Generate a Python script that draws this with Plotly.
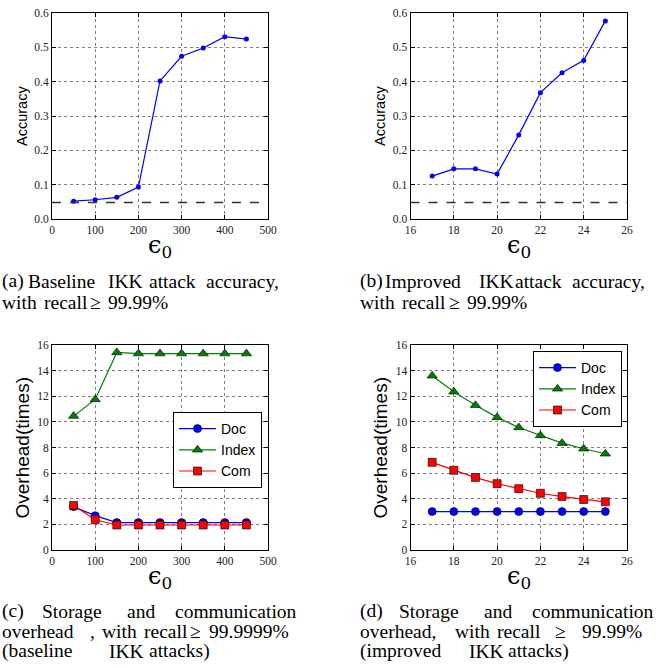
import plotly.graph_objects as go

# ---------------- data ----------------
eps_a = [50, 100, 150, 200, 250, 300, 350, 400, 450]
acc_a = [0.052, 0.056, 0.063, 0.093, 0.402, 0.474, 0.498, 0.531, 0.524]
eps_b = [17, 18, 19, 20, 21, 22, 23, 24, 25]
acc_b = [0.125, 0.146, 0.146, 0.131, 0.245, 0.368, 0.426, 0.462, 0.577]
baseline_acc = [0.048]

eps_c = [50, 100, 150, 200, 250, 300, 350, 400, 450]
doc_c = [3.38, 2.68, 2.14, 2.14, 2.14, 2.14, 2.14, 2.14, 2.14]
index_c = [10.45, 11.75, 15.42, 15.33, 15.33, 15.33, 15.33, 15.33, 15.33]
com_c = [3.48, 2.36, 1.95, 1.95, 1.95, 1.95, 1.95, 1.95, 1.95]

eps_d = [17, 18, 19, 20, 21, 22, 23, 24, 25]
doc_d = [3.0, 3.0, 3.0, 3.0, 3.0, 3.0, 3.0, 3.0, 3.0]
index_d = [13.6, 12.35, 11.3, 10.35, 9.56, 8.94, 8.34, 7.9, 7.51]
com_d = [6.84, 6.22, 5.65, 5.18, 4.79, 4.43, 4.17, 3.94, 3.76]

series_names = ["Doc", "Index", "Com"]

x_ticks_ab = [0, 100, 200, 300, 400, 500]
x_ticks_bd = [16, 18, 20, 22, 24, 26]
acc_ticks = [0.0, 0.1, 0.2, 0.3, 0.4, 0.5, 0.6]
ovh_ticks = [0, 2, 4, 6, 8, 10, 12, 14, 16]

captions = [
    # (baseline y px, [(word, left x px), ...])
    [(287, [("(a)", 0), ("Baseline", 26), ("IKK", 106), ("attack", 147), ("accuracy,", 204)]),
     (308, [("with", 0), ("recall", 42), ("≥", 88), ("99.99%", 106)])],
    [(287, [("(b)", 358), ("Improved", 383), ("IKK", 477), ("attack", 513), ("accuracy,", 570)]),
     (308, [("with", 358), ("recall", 400), ("≥", 447), ("99.99%", 465)])],
    [(617, [("(c)", 0), ("Storage", 40), ("and", 125), ("communication", 173)]),
     (637, [("overhead", 0), (",", 88), ("with", 100), ("recall", 142), ("≥", 188), ("99.9999%", 207)]),
     (657, [("(baseline", 0), ("IKK", 107), ("attacks)", 147)])],
    [(617, [("(d)", 358), ("Storage", 397), ("and", 482), ("communication", 530)]),
     (637, [("overhead,", 358), ("with", 453), ("recall", 495), ("≥", 553), ("99.99%", 580)]),
     (657, [("(improved", 358), ("IKK", 467), ("attacks)", 506)])],
]

# ---------------- layout helpers ----------------
W, H = 665, 668


def px_x(v):
    return v / W


def px_y(v):
    return 1 - v / H


SERIF = "Liberation Serif, Times New Roman, serif"
SANS = "Liberation Sans, Arial, sans-serif"

fig = go.Figure()

# domains in px: (left, right, top, bottom)
boxes = {
    "a": (52, 268, 13, 219),
    "b": (410.5, 627, 13, 219),
    "c": (52, 268, 345, 550),
    "d": (410.5, 627, 345, 550),
}
axis_ids = {"a": ("x", "y"), "b": ("x2", "y2"), "c": ("x3", "y3"), "d": ("x4", "y4")}


def axis_common():
    return dict(
        showline=True, linecolor="black", linewidth=1, mirror="ticks",
        ticks="inside", ticklen=4, tickwidth=1, tickcolor="black",
        showgrid=True, gridcolor="rgba(0,0,0,0.5)", gridwidth=0.8, griddash="dot",
        zeroline=False, automargin=False,
        tickfont=dict(family=SERIF, size=11.5, color="#222"),
    )


layout_axes = {}
for key, (l, r, t, b) in boxes.items():
    xa, ya = axis_ids[key]
    xname = "xaxis" if xa == "x" else "xaxis" + xa[1:]
    yname = "yaxis" if ya == "y" else "yaxis" + ya[1:]
    xd = axis_common()
    yd = axis_common()
    xd.update(domain=[px_x(l), px_x(r)], anchor=ya)
    yd.update(domain=[px_y(b), px_y(t)], anchor=xa)
    if key in ("a", "c"):
        xd.update(range=[0, 500], tickvals=x_ticks_ab)
    else:
        xd.update(range=[16, 26], tickvals=x_ticks_bd)
    if key in ("a", "b"):
        yd.update(range=[0, 0.6], tickvals=acc_ticks, tickformat=".1f")
    else:
        yd.update(range=[0, 16], tickvals=ovh_ticks)
    layout_axes[xname] = xd
    layout_axes[yname] = yd

# ---------------- accuracy traces ----------------
for key, xs, ys in (("a", eps_a, acc_a), ("b", eps_b, acc_b)):
    xa, ya = axis_ids[key]
    fig.add_trace(go.Scatter(
        x=xs, y=ys, xaxis=xa, yaxis=ya, mode="lines+markers",
        line=dict(color="#0000ff", width=1.2),
        marker=dict(color="#0000ff", size=5),
        showlegend=False,
    ))
    fig.add_shape(type="line", xref=xa + " domain", yref=ya,
                  x0=0, x1=1, y0=baseline_acc[0], y1=baseline_acc[0],
                  line=dict(color="#333333", width=1.5, dash="dash"))

# ---------------- overhead traces ----------------
styles = [
    dict(color="#0000ff", symbol="circle", size=8),
    dict(color="#008000", symbol="triangle-up", size=9),
    dict(color="#ff0000", symbol="square", size=8),
]
for key, xs, series, lg in (("c", eps_c, [doc_c, index_c, com_c], "legend"),
                            ("d", eps_d, [doc_d, index_d, com_d], "legend2")):
    xa, ya = axis_ids[key]
    for name, ys, st in zip(series_names, series, styles):
        fig.add_trace(go.Scatter(
            x=xs, y=ys, xaxis=xa, yaxis=ya, mode="lines+markers", name=name,
            line=dict(color=st["color"], width=1.2),
            marker=dict(color=st["color"], symbol=st["symbol"], size=st["size"],
                        line=dict(color="black", width=0.6)),
            legend=lg,
        ))

legend_common = dict(
    bgcolor="white", bordercolor="black", borderwidth=1,
    font=dict(family=SANS, size=14, color="black"),
    xanchor="left", yanchor="top", tracegroupgap=0, itemwidth=37,
)

annotations = []
# axis titles
for key, (l, r, t, b) in boxes.items():
    ytitle = "Accuracy" if key in ("a", "b") else "Overhead(times)"
    ysize = 14.5 if key in ("a", "b") else 19
    xc = 22 if key in ("a", "c") else 380
    annotations.append(dict(
        text=ytitle, x=px_x(xc), y=px_y((t + b) / 2), xref="paper", yref="paper",
        showarrow=False, textangle=-90, xanchor="center", yanchor="middle",
        font=dict(family=SANS, size=ysize, color="black"),
    ))
    annotations.append(dict(
        text="ϵ<sub>0</sub>", x=px_x((l + r) / 2), y=px_y(b + 27), xref="paper", yref="paper",
        showarrow=False, xanchor="center", yanchor="middle",
        font=dict(family="DejaVu Serif", size=24, color="black"),
    ))

# captions
for cap in captions:
    for base_y, words in cap:
        for word, wx in words:
            annotations.append(dict(
                text=word, x=px_x(wx), y=px_y(base_y - 6), xref="paper", yref="paper",
                showarrow=False, xanchor="left", yanchor="middle",
                font=dict(family=SERIF, size=19.5, color="black"),
            ))

fig.update_layout(
    template="none",
    width=W, height=H,
    margin=dict(l=0, r=0, t=0, b=0, autoexpand=False),
    paper_bgcolor="white", plot_bgcolor="white",
    showlegend=True,
    legend=dict(x=px_x(173), y=px_y(412), **legend_common),
    legend2=dict(x=px_x(533), y=px_y(351), **legend_common),
    annotations=annotations,
    **layout_axes,
)

fig.write_html(
    "out.html",
    config={"displayModeBar": False},
    post_script="document.body.style.margin='0';document.body.style.overflow='hidden';",
)
